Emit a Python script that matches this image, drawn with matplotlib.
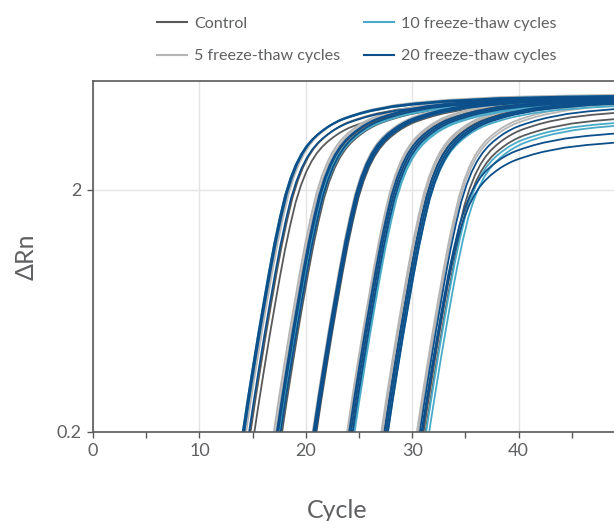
import matplotlib
matplotlib.use("Agg")
import matplotlib.pyplot as plt
from matplotlib.lines import Line2D
from matplotlib.ticker import NullLocator, MultipleLocator
import numpy as np

plt.rcParams['font.family'] = ['Lato', 'DejaVu Sans']

# shape of one amplification curve, read off the earliest group
# (cycles relative to the 0.2 crossing, delta Rn)
rel_cycle = [-2, -1, 0, 0.5, 1, 1.5, 2, 2.5, 3, 3.5, 4, 4.5, 5, 5.5, 6, 6.5, 7, 7.5,
             8, 8.5, 9, 9.5, 10, 11, 12, 14, 16, 19, 24, 30, 37]
template_drn = [0.054, 0.104, 0.2, 0.28, 0.385, 0.525, 0.705, 0.94, 1.23, 1.56, 1.93,
                2.27, 2.58, 2.85, 3.08, 3.27, 3.43, 3.57, 3.70, 3.81, 3.91, 3.99, 4.06,
                4.19, 4.30, 4.47, 4.58, 4.70, 4.82, 4.89, 4.93]

labels = ['Control', '5 freeze-thaw cycles', '10 freeze-thaw cycles', '20 freeze-thaw cycles']
colors = ['#58595b', '#b5b5b5', '#4aabc8', '#0c4f8a']

# start cycle and final delta Rn of every well, six dilutions per condition
ct_control = [14.75, 15.05, 17.35, 17.7, 20.85, 20.95, 24.05, 24.2, 27.35, 27.5, 30.9, 31.0]
plat_control = [4.75, 4.55, 4.8, 4.7, 4.85, 4.75, 4.9, 4.8, 4.85, 4.75, 4.4, 4.15]
ct_5 = [14.3, 14.4, 17.0, 17.15, 20.65, 20.75, 23.9, 24.0, 27.1, 27.2, 30.4, 30.5]
plat_5 = [4.9, 4.95, 4.95, 4.9, 4.95, 4.9, 5.0, 4.95, 4.95, 4.9, 4.8, 4.7]
ct_10 = [14.05, 14.2, 17.45, 17.55, 20.8, 20.85, 24.4, 24.5, 27.5, 27.6, 31.0, 31.25]
plat_10 = [4.85, 4.9, 4.75, 4.7, 4.85, 4.8, 4.7, 4.65, 4.7, 4.6, 4.0, 3.9]
ct_20 = [14.05, 14.2, 14.6, 17.25, 17.4, 17.6, 20.7, 20.8, 20.9,
         24.05, 24.2, 24.35, 27.35, 27.5, 27.65, 30.6, 30.4, 30.35]
plat_20 = [4.85, 4.9, 4.7, 4.85, 4.9, 4.8, 4.9, 4.85, 4.8,
           4.85, 4.8, 4.75, 4.8, 4.75, 4.7, 4.55, 3.6, 3.3]

cts = [ct_control, ct_5, ct_10, ct_20]
plats = [plat_control, plat_5, plat_10, plat_20]

text_col = '#5f6062'
spine_col = '#58595b'

fig = plt.figure(figsize=(6.14, 5.21), dpi=100)
ax = fig.add_axes([93 / 614, 89 / 521, 532 / 614, 351 / 521])

rel = np.array(rel_cycle)
shape = np.array(template_drn) / template_drn[-1]
for ct_list, pl_list, col in zip(cts, plats, colors):
    for ct, pl in zip(ct_list, pl_list):
        ax.plot(ct + rel, shape * pl, color=col, lw=1.3, solid_capstyle='butt')

ax.set_yscale('log')
ax.set_xlim(0, 50)
ax.set_ylim(0.2, 5.64)
ax.set_yticks([0.2, 2])
ax.set_yticklabels(['0.2', '2'])
ax.yaxis.set_minor_locator(NullLocator())
ax.set_xticks([0, 10, 20, 30, 40, 50])
ax.set_xticklabels(['0', '10', '20', '30', '40', ''])
ax.xaxis.set_minor_locator(MultipleLocator(5))

ax.grid(True, which='major', color='#e4e4e4', lw=1)
ax.set_axisbelow(True)
for s in ax.spines.values():
    s.set_color(spine_col)
    s.set_linewidth(1.2)
ax.tick_params(which='both', direction='out', length=4, width=1, color=spine_col,
               labelcolor=text_col, labelsize=13, pad=4)

ax.set_xlabel('Cycle', fontsize=18, color=text_col)
ax.xaxis.set_label_coords(0.459, -0.19)
ax.set_ylabel('\u0394Rn', fontsize=18, color=text_col)
ax.yaxis.set_label_coords(-0.105, 0.5)

handles = [Line2D([], [], color=c, lw=1.5) for c in colors]
fig.legend(handles, labels, ncol=2, loc='upper left', bbox_to_anchor=(157 / 614, 0.968),
           frameon=False, fontsize=11.6, labelcolor=text_col, handlelength=1.86,
           handletextpad=0.43, columnspacing=1.5, labelspacing=1.12,
           borderpad=0, borderaxespad=0)

fig.savefig('out.png', dpi=100)
